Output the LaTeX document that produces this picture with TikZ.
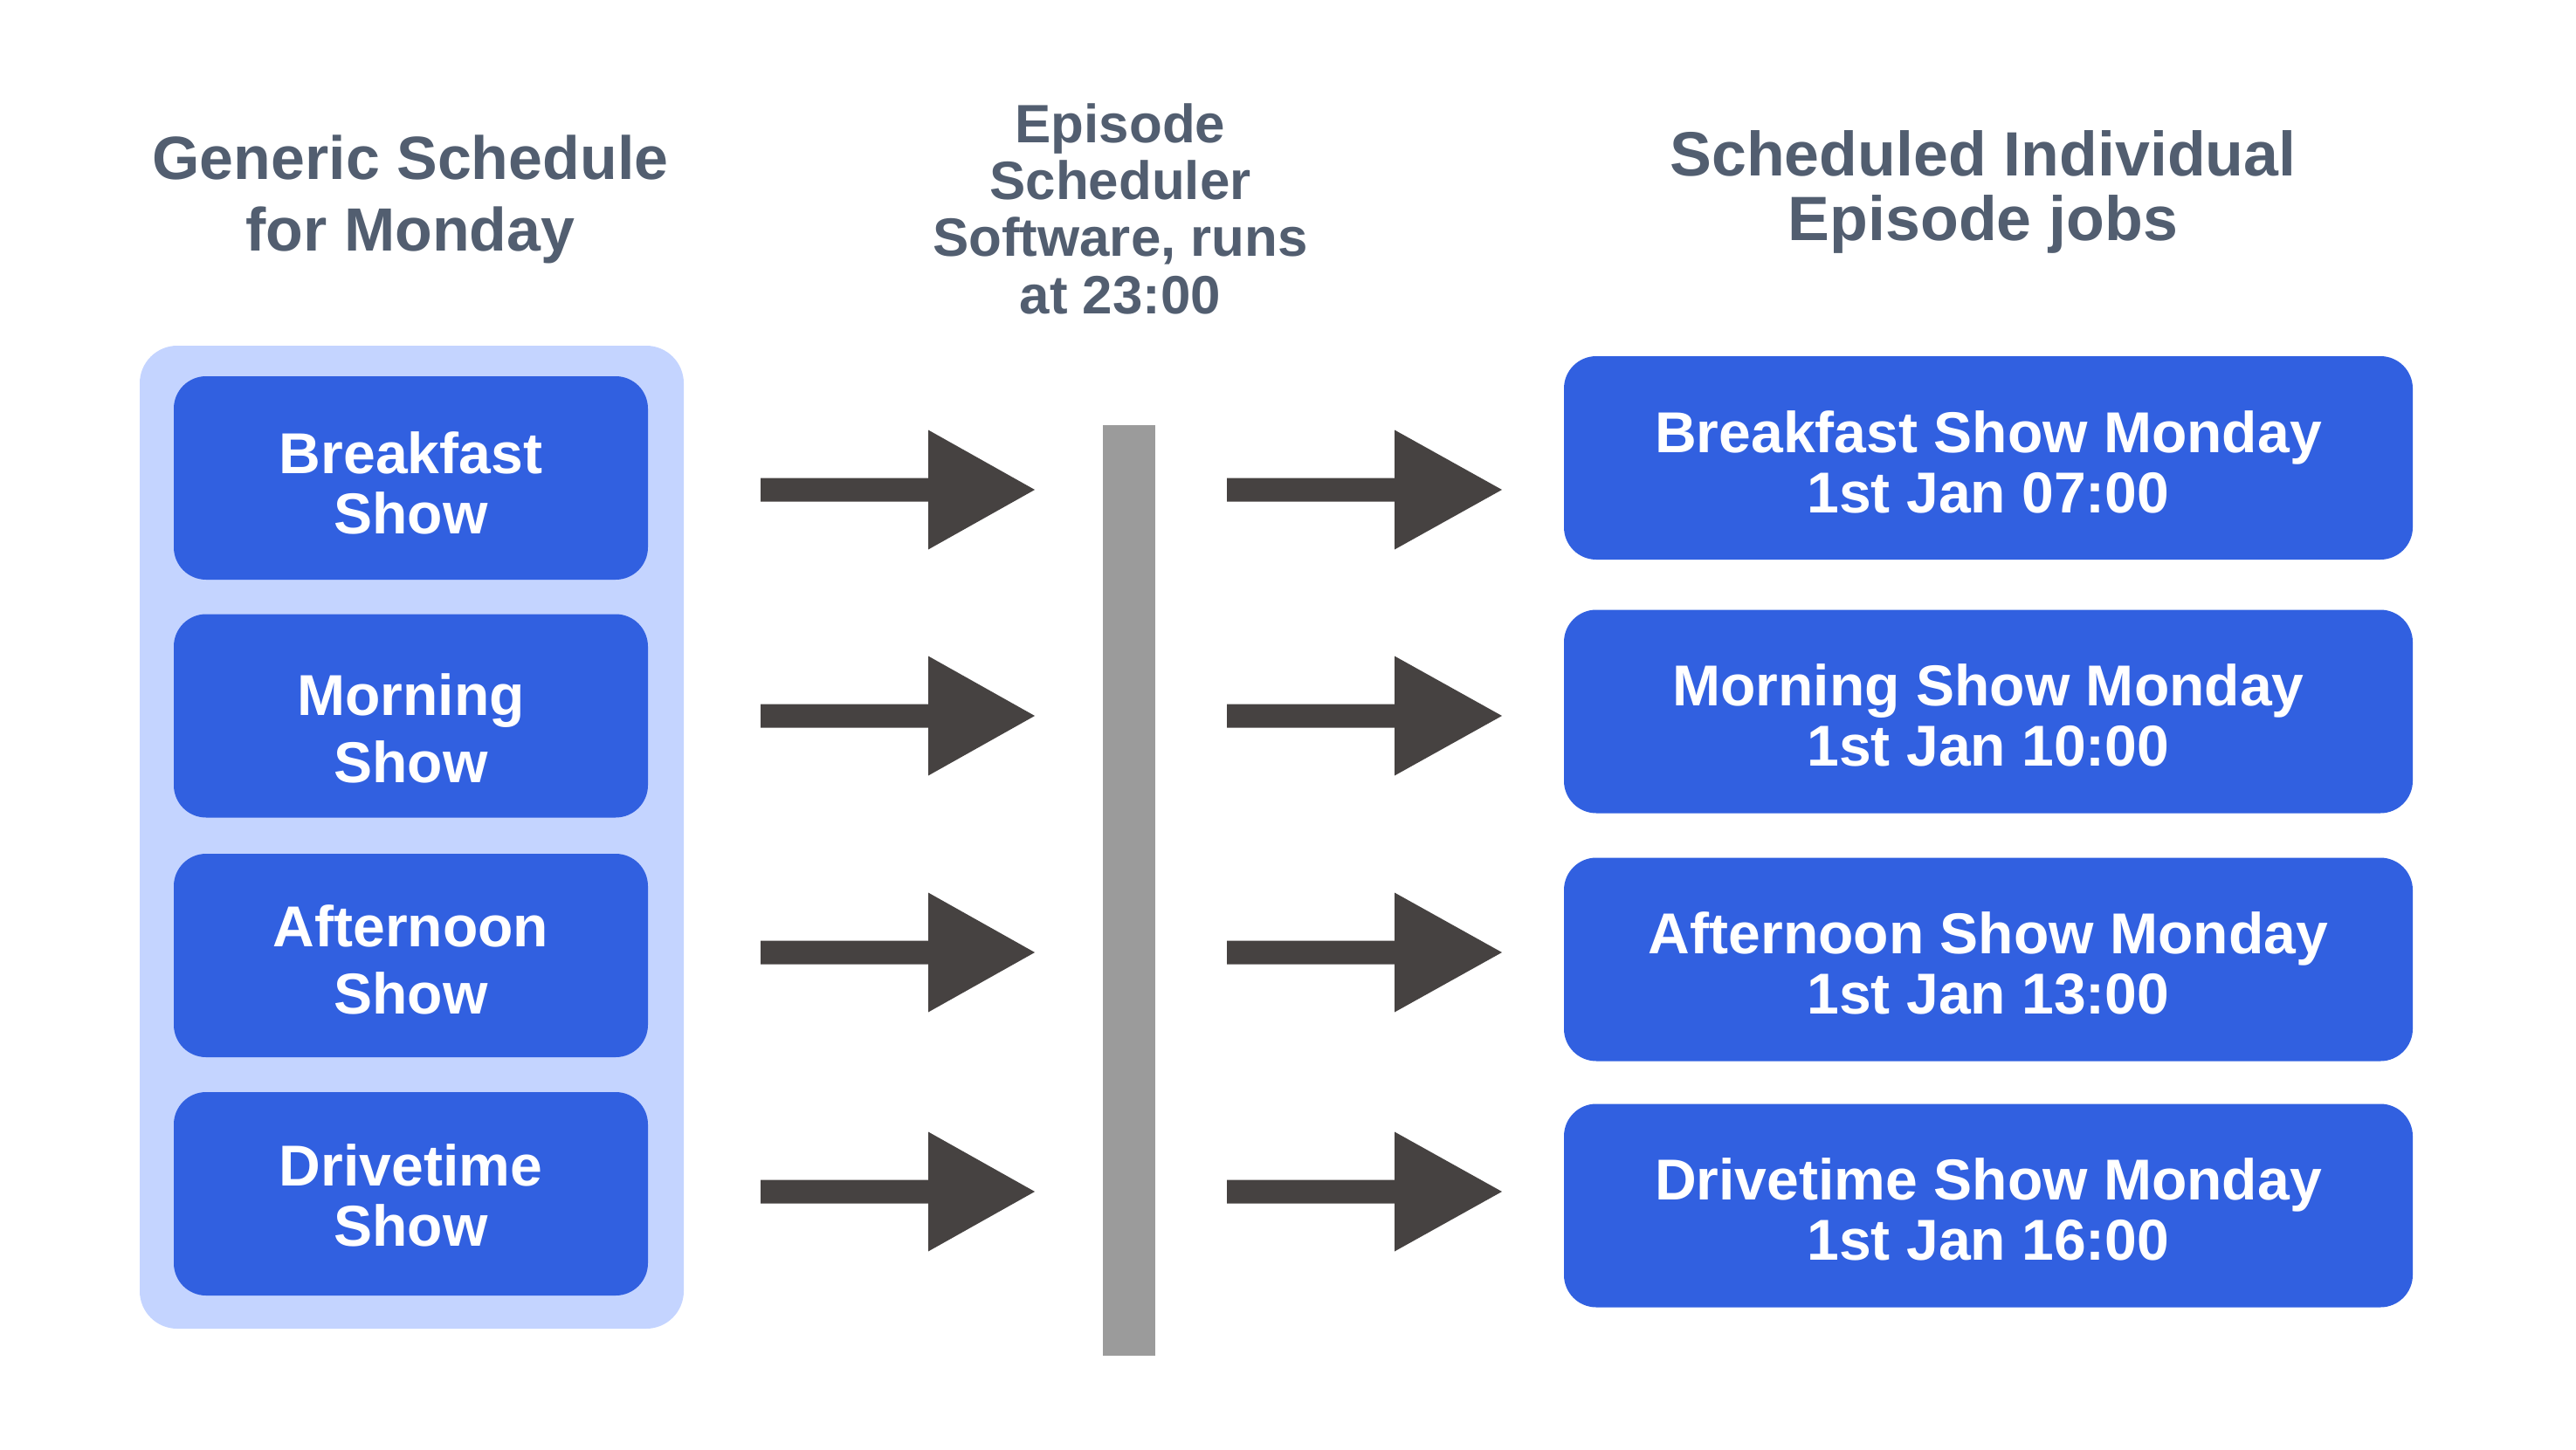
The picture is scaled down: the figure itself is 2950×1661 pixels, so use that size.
\documentclass[tikz,border=0pt]{standalone}
\usepackage{fontspec}
\setmainfont{Liberation Sans}
\definecolor{showblue}{HTML}{3160E0}
\definecolor{panelblue}{HTML}{C4D4FF}
\definecolor{headgray}{HTML}{525E70}
\definecolor{arrowgray}{HTML}{464241}
\definecolor{bargray}{HTML}{9B9B9B}

\begin{document}
\begin{tikzpicture}[x=0.1mm,y=-0.1mm,
    showbox/.style={fill=showblue,text=white,rounded corners=3.7mm,inner sep=0pt,
        minimum height=23.3mm,align=center,text depth=0pt,text height=12.5mm,
        font=\bfseries\fontsize{18.8}{19.6}\selectfont},
    heading/.style={text=headgray,inner sep=0pt,align=center,anchor=base}]

            \useasboundingbox (0,0) rectangle (2950,1661);

            % headings
            \node[heading,font=\bfseries\fontsize{19.9}{23.3}\selectfont] (generic) at (470,287) {Generic Schedule\\for Monday};
            \node[heading,font=\bfseries\fontsize{17.6}{18.5}\selectfont] (scheduler) at (1283,359) {Episode\\Scheduler\\Software, runs\\at 23:00};
            \node[heading,font=\bfseries\fontsize{20.4}{21.05}\selectfont] (jobs) at (2271,275) {Scheduled Individual\\Episode jobs};

            % generic schedule
            \fill[panelblue,rounded corners=4.3mm] (160,396) rectangle (783,1522);

            \node[showbox,minimum width=54.3mm,text height=12.7mm] (breakfast) at (470.5,547.5) {Breakfast\\Show};
            \node[showbox,minimum width=54.3mm,text height=15.2mm] (morning) at (470.5,820) {Morning\\[0.8mm]Show};
            \node[showbox,minimum width=54.3mm,text height=13.3mm] (afternoon) at (470.5,1094.5) {Afternoon\\[0.8mm]Show};
            \node[showbox,minimum width=54.3mm,text height=11.9mm] (drivetime) at (470.5,1367.5) {Drivetime\\Show};

            % scheduler bar
            \fill[bargray] (1263,487) rectangle (1323,1553);

            % arrows in
            \fill[arrowgray] (871,547.5) -- ++(192,0) -- ++(0,-55) -- ++(122,68.5) -- ++(-122,68.5) -- ++(0,-55) -- ++(-192,0) -- cycle;
            \fill[arrowgray] (871,806.5) -- ++(192,0) -- ++(0,-55) -- ++(122,68.5) -- ++(-122,68.5) -- ++(0,-55) -- ++(-192,0) -- cycle;
            \fill[arrowgray] (871,1077.5) -- ++(192,0) -- ++(0,-55) -- ++(122,68.5) -- ++(-122,68.5) -- ++(0,-55) -- ++(-192,0) -- cycle;
            \fill[arrowgray] (871,1351.5) -- ++(192,0) -- ++(0,-55) -- ++(122,68.5) -- ++(-122,68.5) -- ++(0,-55) -- ++(-192,0) -- cycle;

            % arrows out
            \fill[arrowgray] (1405,547.5) -- ++(192,0) -- ++(0,-55) -- ++(123,68.5) -- ++(-123,68.5) -- ++(0,-55) -- ++(-192,0) -- cycle;
            \fill[arrowgray] (1405,806.5) -- ++(192,0) -- ++(0,-55) -- ++(123,68.5) -- ++(-123,68.5) -- ++(0,-55) -- ++(-192,0) -- cycle;
            \fill[arrowgray] (1405,1077.5) -- ++(192,0) -- ++(0,-55) -- ++(123,68.5) -- ++(-123,68.5) -- ++(0,-55) -- ++(-192,0) -- cycle;
            \fill[arrowgray] (1405,1351.5) -- ++(192,0) -- ++(0,-55) -- ++(123,68.5) -- ++(-123,68.5) -- ++(0,-55) -- ++(-192,0) -- cycle;

            % individual episode jobs
            \node[showbox,minimum width=97.2mm] (breakfastjob) at (2277,524.5) {Breakfast Show Monday\\1st Jan 07:00};
            \node[showbox,minimum width=97.2mm] (morningjob) at (2277,815) {Morning Show Monday\\1st Jan 10:00};
            \node[showbox,minimum width=97.2mm] (afternoonjob) at (2277,1099) {Afternoon Show Monday\\1st Jan 13:00};
            \node[showbox,minimum width=97.2mm] (drivetimejob) at (2277,1381) {Drivetime Show Monday\\1st Jan 16:00};

        \end{tikzpicture}
\end{document}
